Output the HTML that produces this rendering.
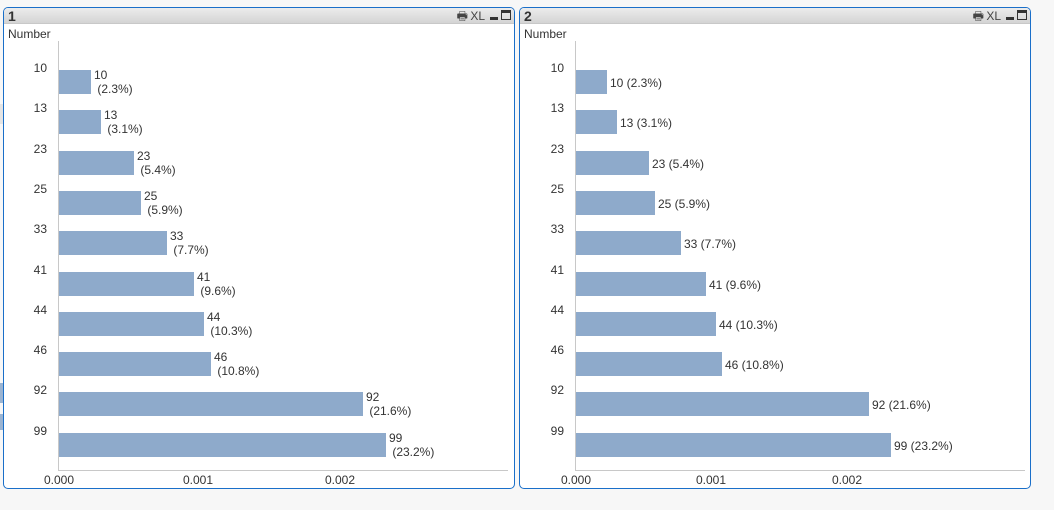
<!DOCTYPE html>
<html><head><meta charset="utf-8"><style>
*{margin:0;padding:0;box-sizing:border-box}
body{width:1054px;height:510px;background:#f7f7f7;position:relative;overflow:hidden;font-family:"Liberation Sans",Arial,sans-serif;color:#222}
.panel{position:absolute;top:7px;width:512px;height:482px;background:#fff;border:1px solid #1a6fc9;border-radius:5px;overflow:hidden}
.tb{position:absolute;left:0;top:0;right:0;height:16px;background:linear-gradient(#ececec,#d4d4d4);border-bottom:1px solid #c8c8c8}
.tt{position:absolute;left:4px;top:0;font-weight:bold;font-size:14px;line-height:16px;color:#333}
.ic{position:absolute;top:1px;font-size:12px;color:#444;line-height:14px}
.a{position:absolute;font-size:12px;line-height:14px;white-space:nowrap;color:#333}
.bar{position:absolute;background:#8eaacb;height:24px}
.ax{position:absolute;background:#c8c8c8}
</style></head><body>
<div style="position:absolute;left:0;top:104px;width:3px;height:20px;background:#e4e4e4"></div>
<div style="position:absolute;left:0;top:383px;width:3px;height:20px;background:#9bb4d2"></div>
<div style="position:absolute;left:0;top:414px;width:3px;height:16px;background:#9bb4d2"></div>
<div id="p1" class="panel" style="left:3px"></div>
<div id="p2" class="panel" style="left:519px"></div>
<script>
var vals=[10,13,23,25,33,41,44,46,92,99],pct=["2.3","3.1","5.4","5.9","7.7","9.6","10.3","10.8","21.6","23.2"];
var e1=[91,101,134,141,167,194,204,211,363,386],e2=[607,617,649,655,681,706,716,722,869,891];
function build(id,px,title,ax,ends,two,ticks,axEnd){
 var p=document.getElementById(id),h='<div class="tb"><div class="tt">'+title+'</div>'+
 '<div class="ic" style="right:46px">&#x1F5B6;</div><div class="ic" style="right:29px">XL</div>'+
 '<div style="position:absolute;right:16px;top:9px;width:8px;height:3px;background:#333"></div>'+
 '<div style="position:absolute;right:3px;top:2px;width:10px;height:10px;border:1px solid #333;border-top-width:3px"></div></div>';
 h+='<div class="a" style="left:4px;top:19px">Number</div>';
 h+='<div class="ax" style="left:'+(ax-px-1)+'px;top:33px;width:1px;height:'+(470-33-7)+'px"></div>';
 h+='<div class="ax" style="left:'+(ax-px-1)+'px;top:'+(470-7-1)+'px;width:'+(axEnd-ax+1)+'px;height:1px"></div>';
 for(var i=0;i<10;i++){var y=69+Math.round(i*40.3)-7;
  h+='<div class="a" style="left:'+(ax-px-70)+'px;width:58px;text-align:right;top:'+(y-9)+'px">'+vals[i]+'</div>';
  h+='<div class="bar" style="left:'+(ax-px)+'px;top:'+y+'px;width:'+(ends[i]-ax)+'px"></div>';
  if(two)h+='<div class="a" style="left:'+(ends[i]-px+3)+'px;top:'+(y-2)+'px">'+vals[i]+'<br>&nbsp;('+pct[i]+'%)</div>';
  else h+='<div class="a" style="left:'+(ends[i]-px+3)+'px;top:'+(y+6)+'px">'+vals[i]+' ('+pct[i]+'%)</div>';
 }
 var tl=["0.000","0.001","0.002"];
 for(var j=0;j<3;j++)h+='<div class="a" style="left:'+(ticks[j]-px-30)+'px;width:60px;text-align:center;top:'+(472-7)+'px">'+tl[j]+'</div>';
 p.innerHTML=h;
}
build("p1",4,"1",59,e1,true,[59,198,340],508);
build("p2",520,"2",576,e2,false,[576,711,847],1025);
</script>
</body></html>
